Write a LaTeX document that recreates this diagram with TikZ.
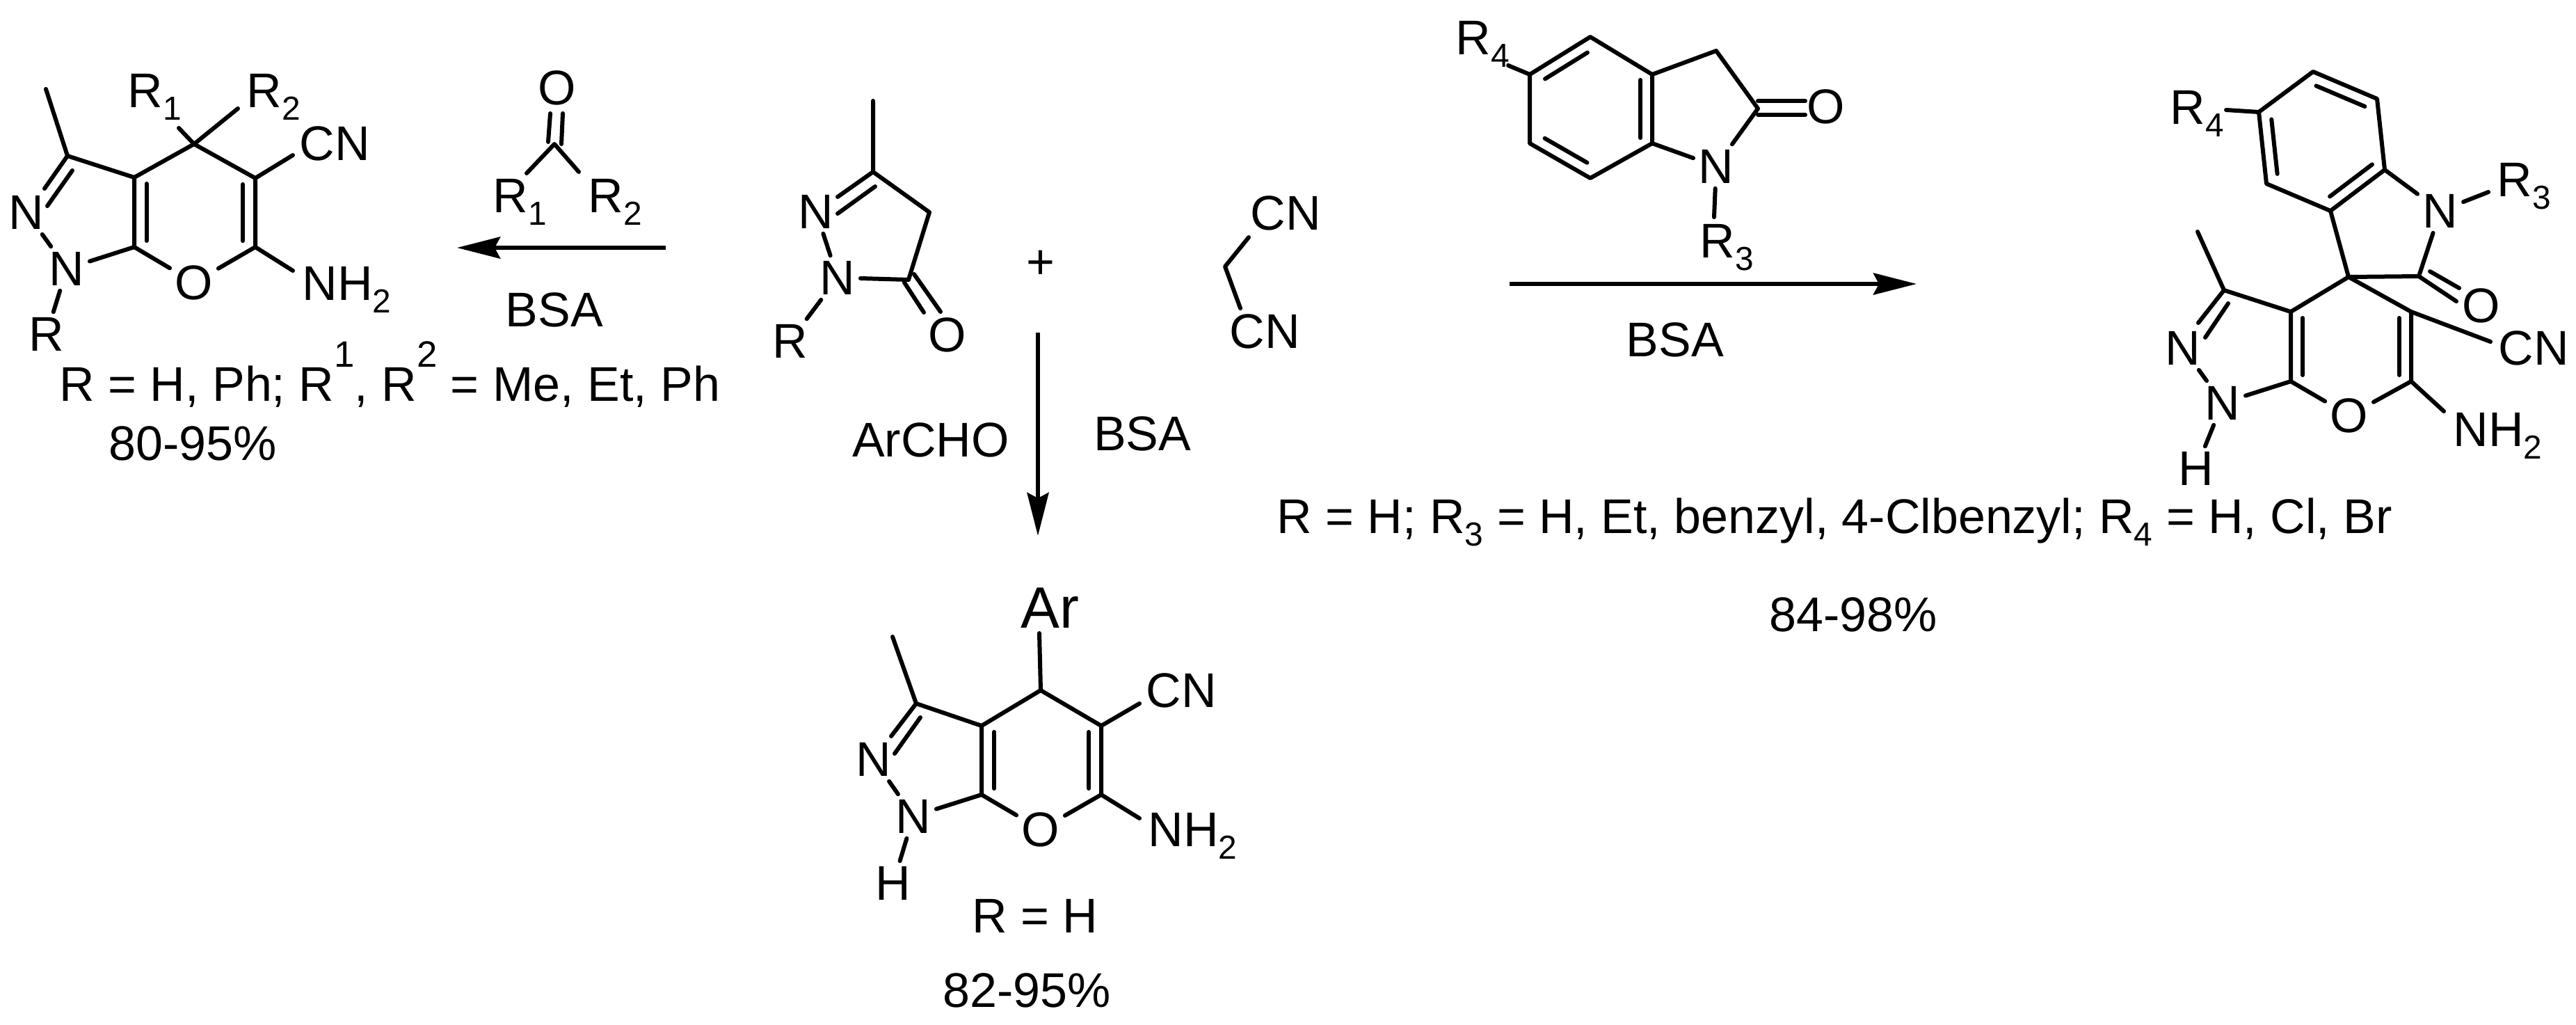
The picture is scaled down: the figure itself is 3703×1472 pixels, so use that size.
\documentclass[tikz,border=0pt]{standalone}
\usepackage{fontspec}
\setmainfont{Liberation Sans}
\usetikzlibrary{arrows.meta,calc}
\newcommand\subb[1]{\raisebox{-0.18cm}{\fontsize{13.6}{14}\selectfont #1}}
\newcommand\supp[1]{\raisebox{0.48cm}{\fontsize{15}{15}\selectfont #1}}
\newcommand\dbl[5]{\draw[bond] ($(#1)!#4!(#2)!#3!90:(#2)$) -- ($(#1)!#5!(#2)!#3!90:(#2)$);}
\tikzset{
  x=0.01cm,y=-0.01cm,
  txt/.style={font=\fontsize{19.9}{24}\selectfont},
  lbl/.style={txt,anchor=base west,inner sep=0pt},
  atom/.style={txt,anchor=center,inner sep=0.07cm},
  bond/.style={line width=0.06cm,line cap=round,line join=round,black},
  rxn/.style={line width=0.06cm,black,-{Stealth[length=0.62cm,width=0.31cm,inset=0.08cm]}},
}
\begin{document}
\begin{tikzpicture}
\path[use as bounding box,fill=white] (0,0) rectangle (3703,1472);

% ---- left product ----
\foreach \n/\p in {Me/{66,128},C3/{97,224},C3a/{193,255},C4/{279,207},C5/{367,256},C6/{367,355},C7a/{193,355},
  e1/{421,223},e2/{421,389},e3/{257,184},e4/{342,156},e5/{64,271},e6/{104,245},e7/{68,296}}
  {\coordinate (a-\n) at (\p);}
\node[atom] (a-N2) at (38,305) {N};
\node[atom] (a-N1) at (96,386) {N};
\node[atom] (a-O) at (279,406) {O};
\node[atom] (a-R) at (67,480) {R};
\node[lbl] (a-R1) at (183,154) {R\subb{1}};
\node[lbl] (a-R2) at (354,154) {R\subb{2}};
\node[lbl] (a-CN) at (430,230) {CN};
\node[lbl] (a-NH) at (434,431) {NH\subb{2}};
\draw[bond] (a-Me) -- (a-C3) -- (a-C3a) -- (a-C7a) -- (a-O);
\draw[bond] (a-C3a) -- (a-C4) -- (a-C5) -- (a-C6) -- (a-O);
\draw[bond] (a-C7a) -- (a-N1);
\draw[bond] (a-N1) -- (a-N2);
\draw[bond] (a-N1) -- (a-R);
\draw[bond] (a-C3) -- (a-e5);
\draw[bond] (a-e6) -- (a-e7);
\draw[bond] (a-C5) -- (a-e1);
\draw[bond] (a-C6) -- (a-e2);
\draw[bond] (a-C4) -- (a-e3);
\draw[bond] (a-C4) -- (a-e4);
\dbl{a-C3a}{a-C7a}{0.175cm}{0.09}{0.91}
\dbl{a-C5}{a-C6}{-0.18cm}{0.09}{0.91}
\node[lbl] (a-t1) at (85,576) {R = H, Ph; R\supp{1}, R\supp{2} = Me, Et, Ph};
\node[lbl] (a-t2) at (156,661) {80-95\%};

% ---- ketone and left arrow ----
\coordinate (k-C) at (797,207);
\coordinate (k-a) at (791,163); \coordinate (k-b) at (788,204);
\coordinate (k-c) at (809,163); \coordinate (k-d) at (807,207);
\coordinate (k-e) at (757,249); \coordinate (k-f) at (832,247);
\node[atom] (k-O) at (801,126) {O};
\node[lbl] (k-R1) at (708,305) {R\subb{1}};
\node[lbl] (k-R2) at (845,305) {R\subb{2}};
\draw[bond] (k-a) -- (k-b);
\draw[bond] (k-c) -- (k-d);
\draw[bond] (k-e) -- (k-C) -- (k-f);
\coordinate (ar1s) at (957,356); \coordinate (ar1e) at (657,356);
\draw[rxn] (ar1s) -- (ar1e);
\node[atom] (k-BSA) at (797,445) {BSA};

% ---- pyrazolone ----
\foreach \n/\p in {Me/{1255,145},C3/{1255,247},C4/{1336,305},C5/{1306,402},
  e1/{1204,283},e2/{1204,307},e3/{1258,268},e4/{1300,406},e5/{1328,449},e6/{1314,394},e7/{1352,448}}
  {\coordinate (p-\n) at (\p);}
\node[atom] (p-N2) at (1173,304) {N};
\node[atom] (p-N1) at (1204,399) {N};
\node[atom] (p-R) at (1136,490) {R};
\node[atom] (p-O) at (1362,481) {O};
\draw[bond] (p-Me) -- (p-C3) -- (p-C4) -- (p-C5) -- (p-N1);
\draw[bond] (p-C3) -- (p-e1);
\draw[bond] (p-e2) -- (p-e3);
\draw[bond] (p-N2) -- (p-N1);
\draw[bond] (p-N1) -- (p-R);
\draw[bond] (p-e4) -- (p-e5);
\draw[bond] (p-e6) -- (p-e7);
\node[atom] (plus) at (1496,380) {+};

% ---- malononitrile ----
\coordinate (m-C) at (1761,383); \coordinate (m-a) at (1795,341); \coordinate (m-b) at (1783,443);
\node[atom] (m-CN1) at (1848,306) {CN};
\node[atom] (m-CN2) at (1818,476) {CN};
\draw[bond] (m-a) -- (m-C) -- (m-b);

% ---- down arrow ----
\coordinate (ar2s) at (1492,478); \coordinate (ar2e) at (1492,770);
\draw[rxn] (ar2s) -- (ar2e);
\node[atom] (d-Ar) at (1338,632) {ArCHO};
\node[atom] (d-BSA) at (1642,623) {BSA};

% ---- bottom product ----
\foreach \n/\p in {Me/{1283,915},C3/{1317,1011},C3a/{1411,1043},C4/{1496,992},C5/{1583,1043},C6/{1583,1142},C7a/{1411,1142},
  e1/{1638,1011},e2/{1638,1176},e3/{1494,910},e5/{1281,1058},e6/{1323,1031},e7/{1286,1083}}
  {\coordinate (b-\n) at (\p);}
\node[atom] (b-N2) at (1256,1091) {N};
\node[atom] (b-N1) at (1313,1173) {N};
\node[atom] (b-O) at (1496,1192) {O};
\node[atom] (b-H) at (1284,1269) {H};
\node[lbl,font=\fontsize{23.8}{24}\selectfont] (b-Ar) at (1467,902) {Ar};
\node[lbl] (b-CN) at (1647,1016) {CN};
\node[lbl] (b-NH) at (1650,1216) {NH\subb{2}};
\draw[bond] (b-Me) -- (b-C3) -- (b-C3a) -- (b-C7a) -- (b-O);
\draw[bond] (b-C3a) -- (b-C4) -- (b-C5) -- (b-C6) -- (b-O);
\draw[bond] (b-C7a) -- (b-N1);
\draw[bond] (b-N1) -- (b-N2);
\draw[bond] (b-N1) -- (b-H);
\draw[bond] (b-C3) -- (b-e5);
\draw[bond] (b-e6) -- (b-e7);
\draw[bond] (b-C5) -- (b-e1);
\draw[bond] (b-C6) -- (b-e2);
\draw[bond] (b-C4) -- (b-e3);
\dbl{b-C3a}{b-C7a}{0.18cm}{0.09}{0.91}
\dbl{b-C5}{b-C6}{-0.18cm}{0.09}{0.91}
\node[lbl] (b-t1) at (1397,1340) {R = H};
\node[lbl] (b-t2) at (1355,1447) {82-95\%};

% ---- oxindole and right arrow ----
\foreach \n/\p in {a/{2286,53},b/{2375,107},c/{2375,206},d/{2286,256},e/{2199,206},f/{2199,107},
  CH/{2467,73},CO/{2527,156},g1/{2168,94},g2/{2527,145},g3/{2595,145},g4/{2527,165},g5/{2595,165}}
  {\coordinate (o-\n) at (\p);}
\node[atom] (o-O) at (2625,153) {O};
\node[atom] (o-N) at (2467,239) {N};
\coordinate (o-g6) at (2464,312);
\node[lbl] (o-R3) at (2443,370) {R\subb{3}};
\node[lbl] (o-R4) at (2092,78) {R\subb{4}};
\draw[bond] (o-f) -- (o-a) -- (o-b) -- (o-c) -- (o-d) -- (o-e) -- cycle;
\draw[bond] (o-b) -- (o-CH) -- (o-CO) -- (o-N) -- (o-c);
\draw[bond] (o-f) -- (o-g1);
\draw[bond] (o-g2) -- (o-g3);
\draw[bond] (o-g4) -- (o-g5);
\draw[bond] (o-N) -- (o-g6);
\dbl{o-a}{o-f}{0.17cm}{0.15}{0.85}
\dbl{o-b}{o-c}{-0.17cm}{0.08}{0.92}
\dbl{o-d}{o-e}{-0.17cm}{0.15}{0.85}
\coordinate (ar3s) at (2170,408); \coordinate (ar3e) at (2755,408);
\draw[rxn] (ar3s) -- (ar3e);
\node[lbl] (o-BSA) at (2337,512) {BSA};

% ---- spiro product ----
\foreach \n/\p in {a1/{3325,103},a2/{3417,142},a3/{3428,244},a4/{3350,303},a5/{3258,264},a6/{3247,161},
  Sp/{3376,398},CO/{3477,397},Me/{3159,333},C3/{3197,417},C3a/{3293,448},C5/{3466,448},C6/{3466,548},C7a/{3293,548},
  e1/{3580,491},e2/{3513,591},e3/{3200,158},e4/{3577,276},e5/{3160,464},e6/{3203,436},e7/{3170,485},
  e8/{3493,390},e9/{3535,414},e10/{3531,433}}
  {\coordinate (s-\n) at (\p);}
\node[atom] (s-N) at (3508,303) {N};
\node[atom] (s-O2) at (3567,439) {O};
\node[atom] (s-N2) at (3138,500) {N};
\node[atom] (s-N1) at (3195,579) {N};
\node[atom] (s-O) at (3377,597) {O};
\node[atom] (s-H) at (3157,673) {H};
\node[lbl] (s-R4) at (3119,178) {R\subb{4}};
\node[lbl] (s-R3) at (3589,282) {R\subb{3}};
\node[lbl] (s-CN) at (3591,524) {CN};
\node[lbl] (s-NH) at (3526,641) {NH\subb{2}};
\draw[bond] (s-a6) -- (s-a1) -- (s-a2) -- (s-a3) -- (s-a4) -- (s-a5) -- cycle;
\draw[bond] (s-a3) -- (s-N);
\draw[bond] (s-N) -- (s-CO) -- (s-Sp) -- (s-a4);
\draw[bond] (s-N) -- (s-e4);
\draw[bond] (s-a6) -- (s-e3);
\draw[bond] (s-CO) -- (s-e10);
\draw[bond] (s-e8) -- (s-e9);
\draw[bond] (s-Me) -- (s-C3) -- (s-C3a) -- (s-C7a) -- (s-O);
\draw[bond] (s-C3a) -- (s-Sp) -- (s-C5) -- (s-C6) -- (s-O);
\draw[bond] (s-C5) -- (s-e1);
\draw[bond] (s-C6) -- (s-e2);
\draw[bond] (s-C7a) -- (s-N1);
\draw[bond] (s-N1) -- (s-N2);
\draw[bond] (s-N1) -- (s-H);
\draw[bond] (s-C3) -- (s-e5);
\draw[bond] (s-e6) -- (s-e7);
\dbl{s-a1}{s-a2}{-0.17cm}{0.12}{0.88}
\dbl{s-a3}{s-a4}{-0.17cm}{0.1}{0.88}
\dbl{s-a5}{s-a6}{-0.17cm}{0.12}{0.88}
\dbl{s-C3a}{s-C7a}{0.17cm}{0.09}{0.91}
\dbl{s-C5}{s-C6}{-0.17cm}{0.09}{0.91}
\node[lbl] (s-t1) at (1835,766) {R = H; R\subb{3} = H, Et, benzyl, 4-Clbenzyl; R\subb{4} = H, Cl, Br};
\node[lbl] (s-t2) at (2543,907) {84-98\%};
\end{tikzpicture}
\end{document}
